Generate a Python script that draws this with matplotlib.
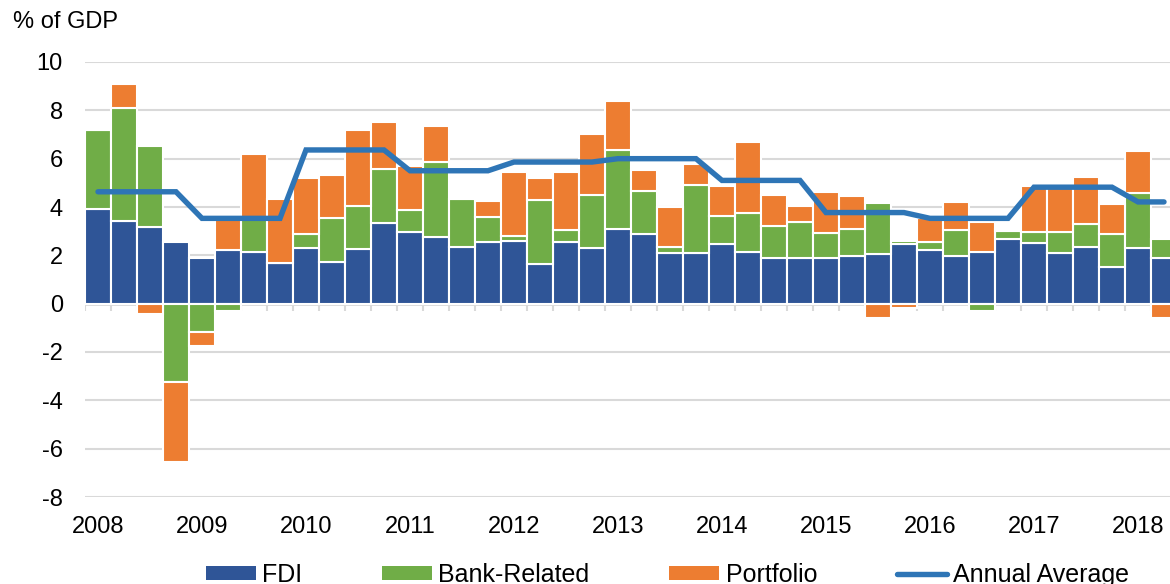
import matplotlib
matplotlib.use("Agg")
import matplotlib.pyplot as plt
from matplotlib.patches import Patch
from matplotlib.lines import Line2D
import numpy as np

plt.rcParams['font.family'] = ['Liberation Sans', 'DejaVu Sans']
plt.rcParams['axes.unicode_minus'] = False

# ---- data (quarterly, 2008Q1 .. 2018Q2), % of GDP ----
years = ['2008', '2009', '2010', '2011', '2012', '2013', '2014', '2015', '2016', '2017', '2018']

fdi = [3.90, 3.43, 3.19, 2.57, 1.90, 2.22, 2.15, 1.67, 2.29, 1.74, 2.25, 3.33,
       2.98, 2.75, 2.36, 2.57, 2.61, 1.66, 2.54, 2.29, 3.09, 2.88, 2.11, 2.11,
       2.47, 2.15, 1.88, 1.88, 1.88, 1.97, 2.06, 2.46, 2.22, 1.97, 2.13, 2.66,
       2.51, 2.08, 2.33, 1.53, 2.32, 1.88]

bank = [3.30, 4.68, 3.33, -3.23, -1.18, -0.29, 1.35, 0.00, 0.59, 1.79, 1.79, 2.23,
        0.90, 3.13, 1.97, 1.03, 0.20, 2.63, 0.51, 2.21, 3.27, 1.80, 0.22, 2.80,
        1.16, 1.62, 1.35, 1.49, 1.06, 1.13, 2.09, 0.13, 0.35, 1.08, -0.29, 0.36,
        0.44, 0.90, 0.95, 1.34, 2.25, 0.78]

portfolio = [0.00, 0.98, -0.43, -3.31, -0.56, 1.45, 2.69, 2.66, 2.31, 1.79, 3.14, 1.94,
             1.82, 1.49, 0.00, 0.66, 2.65, 0.92, 2.41, 2.51, 2.04, 0.85, 1.68, 0.87,
             1.25, 2.92, 1.27, 0.67, 1.67, 1.36, -0.60, -0.19, 0.96, 1.17, 1.26, 0.05,
             1.92, 1.85, 1.98, 1.24, 1.75, -0.60]

annual_avg = [4.63, 3.53, 6.36, 5.50, 5.86, 6.00, 5.10, 3.77, 3.53, 4.82, 4.21]

series = [('FDI', fdi, '#2F5597'),
          ('Bank-Related', bank, '#70AD47'),
          ('Portfolio', portfolio, '#ED7D31')]
line_color = '#2E75B6'
grid_color = '#D9D9D9'

n = len(fdi)
x = np.arange(n)

W, H = 1170, 584
fig = plt.figure(figsize=(W / 100, H / 100), dpi=100)
ax = fig.add_axes([85 / W, 1 - 497 / H, 1 - 85 / W, (497 - 62) / H])

# stacked bars: positives stack up, negatives stack down
pos_base = np.zeros(n)
neg_base = np.zeros(n)
for name, vals, col in series:
    v = np.array(vals, dtype=float)
    base = np.where(v >= 0, pos_base, neg_base)
    ax.bar(x, v, bottom=base, width=1.0, color=col, edgecolor='white',
           linewidth=1.5, zorder=3)
    pos_base = pos_base + np.where(v >= 0, v, 0)
    neg_base = neg_base + np.where(v < 0, v, 0)

# annual average as a step-like line over quarters
avg_q = np.array([annual_avg[i // 4] for i in range(n)])
ax.plot(x, avg_q, color=line_color, lw=3.9, solid_capstyle='round',
        solid_joinstyle='miter', zorder=4)

# zero axis line and category tick marks
ax.axhline(0, color=grid_color, lw=2.0, zorder=2)
ax.vlines(np.arange(n + 1) - 0.5, 0, -0.3, color=grid_color, lw=1.5, zorder=2)

ax.set_xlim(-0.5, (W - 98) / 26)
ax.set_ylim(-8, 10)
ax.set_yticks(np.arange(-8, 11, 2))
ax.yaxis.grid(True, color=grid_color, lw=1.5, zorder=0)
ax.set_axisbelow(True)
ax.set_xticks(np.arange(0, n, 4))
ax.set_xticklabels(years)
ax.tick_params(axis='y', length=0, pad=16, labelsize=17, colors='black')
ax.tick_params(axis='x', length=0, pad=14, labelsize=17, colors='black')
for s in ax.spines.values():
    s.set_visible(False)

fig.text(13 / W, 1 - 22 / H, '% of GDP', fontsize=17, ha='left', va='center')

handles = [Patch(facecolor=c, edgecolor='none') for _, _, c in series]
handles.append(Line2D([0], [0], color=line_color, lw=3.9, solid_capstyle='round'))
labels = [s[0] for s in series] + ['Annual Average']
fig.legend(handles, labels, loc='center', bbox_to_anchor=(667.5 / W, 1 - 575 / H),
           ncol=4, frameon=False, fontsize=18, handlelength=2.0,
           handleheight=0.45, handletextpad=0.25, columnspacing=3.2,
           borderpad=0, borderaxespad=0)

fig.savefig('out.png', dpi=100)
